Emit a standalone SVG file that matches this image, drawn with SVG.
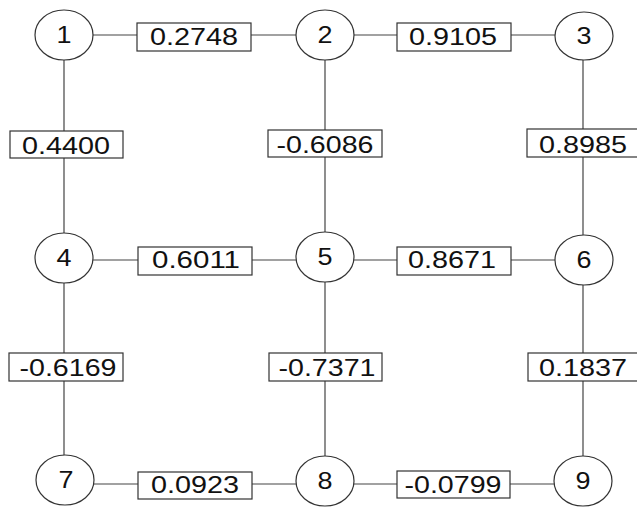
<svg xmlns="http://www.w3.org/2000/svg" width="637" height="508" viewBox="0 0 637 508">
<style>
.e{stroke:#444;stroke-width:1.2;fill:none}
.n ellipse{fill:#fff;stroke:#333;stroke-width:1.2}
.b rect{fill:#fff;stroke:#333;stroke-width:1.2}
text{font-family:"Liberation Sans",Arial,sans-serif;font-size:24px;fill:#111;text-anchor:middle}
</style>
<rect width="637" height="508" fill="#fff"/>
<g id="connectors">
<line class="e" x1="93" y1="35" x2="296" y2="35"/>
<line class="e" x1="354" y1="35" x2="555" y2="35"/>
<line class="e" x1="93" y1="260" x2="296" y2="260"/>
<line class="e" x1="354" y1="260" x2="555" y2="260"/>
<line class="e" x1="94" y1="484" x2="296" y2="484"/>
<line class="e" x1="354" y1="484" x2="555" y2="484"/>
<line class="e" x1="64" y1="60" x2="64" y2="233"/>
<line class="e" x1="64" y1="283" x2="64" y2="456"/>
<line class="e" x1="325" y1="60" x2="325" y2="232"/>
<line class="e" x1="325" y1="282" x2="325" y2="456"/>
<line class="e" x1="583" y1="60" x2="583" y2="235"/>
<line class="e" x1="583" y1="285" x2="583" y2="456"/>
</g>
<g id="edge-labels">
<g class="b" id="w12"><rect x="137" y="23" width="114" height="28"/><text x="194" y="45" textLength="88" lengthAdjust="spacingAndGlyphs">0.2748</text></g>
<g class="b" id="w23"><rect x="397" y="23" width="114" height="28"/><text x="453" y="45" textLength="88" lengthAdjust="spacingAndGlyphs">0.9105</text></g>
<g class="b" id="w45"><rect x="138" y="247" width="114" height="28"/><text x="196" y="268" textLength="88" lengthAdjust="spacingAndGlyphs">0.6011</text></g>
<g class="b" id="w56"><rect x="397" y="247" width="114" height="28"/><text x="452" y="268" textLength="88" lengthAdjust="spacingAndGlyphs">0.8671</text></g>
<g class="b" id="w78"><rect x="138" y="472" width="114" height="27"/><text x="195" y="493" textLength="88" lengthAdjust="spacingAndGlyphs">0.0923</text></g>
<g class="b" id="w89"><rect x="397" y="471" width="113" height="27"/><text x="453" y="493" textLength="97" lengthAdjust="spacingAndGlyphs">-0.0799</text></g>
<g class="b" id="w14"><rect x="10" y="131" width="113" height="27"/><text x="66" y="154" textLength="88" lengthAdjust="spacingAndGlyphs">0.4400</text></g>
<g class="b" id="w25"><rect x="268" y="130" width="114" height="27"/><text x="325" y="153" textLength="97" lengthAdjust="spacingAndGlyphs">-0.6086</text></g>
<g class="b" id="w36"><rect x="527" y="129" width="113" height="28"/><text x="583" y="153" textLength="88" lengthAdjust="spacingAndGlyphs">0.8985</text></g>
<g class="b" id="w47"><rect x="9" y="353" width="114" height="28"/><text x="68" y="376" textLength="97" lengthAdjust="spacingAndGlyphs">-0.6169</text></g>
<g class="b" id="w58"><rect x="269" y="353" width="113" height="28"/><text x="327" y="376" textLength="97" lengthAdjust="spacingAndGlyphs">-0.7371</text></g>
<g class="b" id="w69"><rect x="528" y="353" width="112" height="28"/><text x="583" y="376" textLength="88" lengthAdjust="spacingAndGlyphs">0.1837</text></g>
</g>
<g class="n" id="node1"><ellipse cx="64" cy="35" rx="29" ry="25"/><text x="64" y="43" textLength="15" lengthAdjust="spacingAndGlyphs">1</text></g>
<g class="n" id="node2"><ellipse cx="325" cy="35" rx="29" ry="25"/><text x="325" y="43" textLength="15" lengthAdjust="spacingAndGlyphs">2</text></g>
<g class="n" id="node3"><ellipse cx="584" cy="36" rx="29" ry="24"/><text x="584" y="44" textLength="15" lengthAdjust="spacingAndGlyphs">3</text></g>
<g class="n" id="node4"><ellipse cx="64" cy="258" rx="29" ry="25"/><text x="64" y="266" textLength="15" lengthAdjust="spacingAndGlyphs">4</text></g>
<g class="n" id="node5"><ellipse cx="325" cy="257" rx="29" ry="25"/><text x="325" y="265" textLength="15" lengthAdjust="spacingAndGlyphs">5</text></g>
<g class="n" id="node6"><ellipse cx="584" cy="260" rx="29" ry="25"/><text x="584" y="268" textLength="15" lengthAdjust="spacingAndGlyphs">6</text></g>
<g class="n" id="node7"><ellipse cx="65" cy="480" rx="29" ry="25"/><text x="66" y="488" textLength="15" lengthAdjust="spacingAndGlyphs">7</text></g>
<g class="n" id="node8"><ellipse cx="325" cy="481" rx="29" ry="25"/><text x="325" y="489" textLength="15" lengthAdjust="spacingAndGlyphs">8</text></g>
<g class="n" id="node9"><ellipse cx="583" cy="481" rx="29" ry="25"/><text x="583" y="489" textLength="15" lengthAdjust="spacingAndGlyphs">9</text></g>
</svg>
